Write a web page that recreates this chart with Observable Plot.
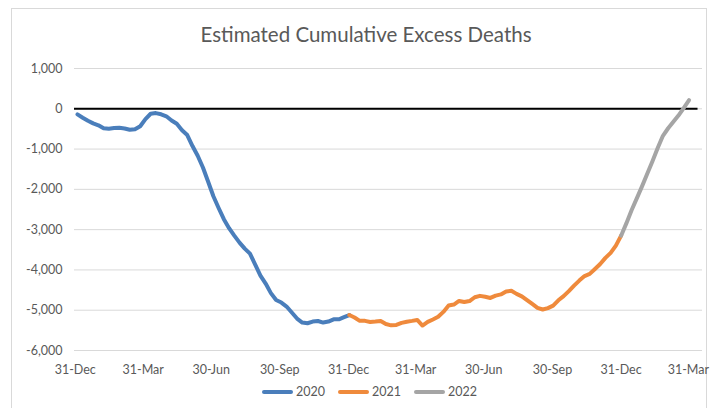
<!DOCTYPE html>
<html><head><meta charset="utf-8">
<script src="https://cdn.jsdelivr.net/npm/d3@7"></script>
<script src="https://cdn.jsdelivr.net/npm/@observablehq/plot@0.6"></script>
<style>
body{margin:0;background:#fff;}
#chart{position:relative;width:713px;height:408px;overflow:hidden;font-family:Lato,"Open Sans",sans-serif;color:#595959;background:#fff;}
#frame{position:absolute;left:11px;top:8px;width:696px;height:430px;border:1px solid #d9d9d9;box-sizing:border-box;}
#title{position:absolute;left:0;top:22px;width:732px;text-align:center;font-size:20.5px;line-height:24px;}
#plot{position:absolute;left:0;top:50px;}
#legend{position:absolute;top:383px;left:0;width:739px;display:flex;justify-content:center;gap:13px;font-size:12.5px;line-height:18px;}
.item{display:flex;align-items:center;gap:3px;}
.sw{width:31px;height:4px;border-radius:2px;}
</style></head>
<body>
<div id="chart">
  <div id="frame"></div>
  <div id="title">Estimated Cumulative Excess Deaths</div>
  <div id="plot"></div>
  <div id="legend"></div>
</div>
<script>
const seriesNames = ["2020", "2021", "2022"];
const seriesColors = ["#4a7ebb", "#ef8a3c", "#a5a5a5"];
const seriesStarts = ["2020-01-03", "2021-01-01", "2021-12-31"]; // first weekly date of each series

const values2020 = [-140, -223, -298, -362, -409, -484, -496, -479, -471, -488, -521, -508, -434, -255,
  -124, -107, -136, -186, -290, -372, -533, -652, -925, -1165, -1458, -1810, -2170, -2462, -2740,
  -2963, -3149, -3323, -3471, -3595, -3868, -4141, -4339, -4575, -4748, -4810, -4909, -5058, -5207,
  -5306, -5324, -5282, -5267, -5306, -5281, -5226, -5226, -5174, -5120];
const values2021 = [-5120, -5182, -5264, -5264, -5291, -5282, -5267, -5343, -5375, -5365, -5314, -5285,
  -5265, -5242, -5380, -5290, -5229, -5163, -5042, -4885, -4860, -4770, -4798, -4773, -4678, -4644,
  -4666, -4695, -4637, -4608, -4533, -4518, -4595, -4656, -4751, -4845, -4942, -4982, -4947, -4885,
  -4754, -4650, -4525, -4389, -4265, -4153, -4099, -3977, -3853, -3702, -3578, -3397, -3150];
const values2022 = [-3150, -2845, -2520, -2225, -1925, -1610, -1300, -975, -670, -483, -322, -161, 25, 215];

const yTicks = [1000, 0, -1000, -2000, -3000, -4000, -5000, -6000];
const xTickDates = ["2019-12-31", "2020-03-31", "2020-06-30", "2020-09-30", "2020-12-31",
  "2021-03-31", "2021-06-30", "2021-09-30", "2021-12-31", "2022-03-31"];

const allValues = [values2020, values2021, values2022];
const rows = [];
allValues.forEach((vals, s) => {
  const start = new Date(seriesStarts[s] + "T00:00:00Z");
  vals.forEach((v, i) => rows.push({series: seriesNames[s], date: d3.utcDay.offset(start, 7 * i), value: v}));
});

const xTicks = xTickDates.map(d => new Date(d + "T00:00:00Z"));
const xDomain = [new Date("2019-12-30T00:00:00Z"), new Date("2022-04-19T00:00:00Z")];

const chart = Plot.plot({
  width: 713,
  height: 335,
  marginLeft: 74,
  marginRight: 11,
  marginTop: 18,
  marginBottom: 35,
  style: {fontFamily: "Lato, 'Open Sans', sans-serif", fontSize: "12.5px", color: "#595959", background: "transparent"},
  x: {type: "utc", domain: xDomain},
  y: {domain: [-6000, 1000]},
  color: {domain: seriesNames, range: seriesColors},
  marks: [
    Plot.ruleY(yTicks, {stroke: "#d9d9d9", strokeWidth: 1}),
    Plot.ruleY([0], {stroke: "#000", strokeWidth: 2, x1: xDomain[0], x2: new Date("2022-04-13T00:00:00Z")}),
    Plot.axisY(yTicks, {tickSize: 0, tickPadding: 12, tickFormat: d => d.toLocaleString("en-US"), label: null}),
    Plot.axisX(xTicks, {tickSize: 0, tickPadding: 15, tickFormat: d3.utcFormat("%d-%b"), label: null}),
    Plot.line(rows, {x: "date", y: "value", z: "series", stroke: "series", strokeWidth: 4,
      strokeLinejoin: "round", strokeLinecap: "round"})
  ]
});
document.getElementById("plot").appendChild(chart);

const legend = document.getElementById("legend");
seriesNames.forEach((name, i) => {
  const item = document.createElement("div");
  item.className = "item";
  const sw = document.createElement("span");
  sw.className = "sw";
  sw.style.background = seriesColors[i];
  const t = document.createElement("span");
  t.textContent = name;
  item.appendChild(sw);
  item.appendChild(t);
  legend.appendChild(item);
});
</script>
</body></html>
